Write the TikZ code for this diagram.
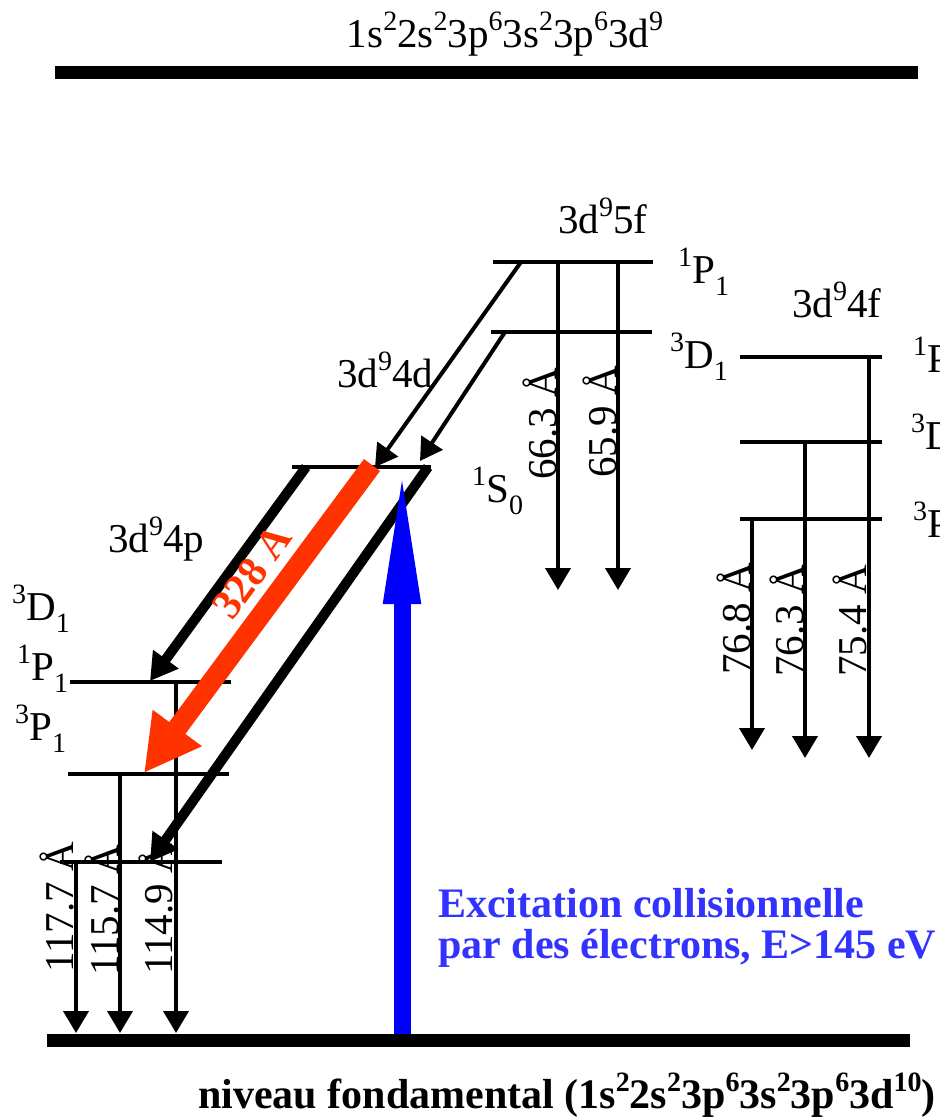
\documentclass[tikz,border=0pt]{standalone}
\usepackage{fontspec}
\setmainfont{Liberation Serif}
\usetikzlibrary{arrows.meta}
\definecolor{laserred}{RGB}{255, 51, 0}
\definecolor{pumpblue}{RGB}{0, 0, 255}
\definecolor{textblue}{RGB}{51, 51, 255}
\newcommand{\hi}[1]{\raisebox{0.4em}{\fontsize{28}{28}\selectfont #1}}
\newcommand{\lo}[1]{\raisebox{-0.3em}{\fontsize{28}{28}\selectfont #1}}

\begin{document}
\begin{tikzpicture}[
    x=1pt, y=-1pt,
    font=\fontsize{41}{46}\selectfont,
    level/.style={line width=4pt},
    ground/.style={line width=13pt},
    decay/.style={line width=4pt, -{Triangle[length=22pt, width=25pt]}},
    cascade/.style={line width=10pt, -{Triangle[length=27pt, width=30pt]}},
    laser/.style={laserred, line width=20pt, -{Triangle[length=56pt, width=57pt]}},
    pump/.style={pumpblue, line width=17pt, -{Triangle[length=142pt, width=33pt]}},
    lbl/.style={anchor=base west, inner sep=0pt},
    wave/.style={rotate=90, anchor=base west, inner sep=0pt}
]
    \useasboundingbox (0,0) rectangle (940,1117);
    \clip (0,0) rectangle (940,1117);

    % ==========================================
    % COORDINATES
    % ==========================================
    % Ion ground state and Ni-like fundamental level
    \coordinate (ion_l) at (55, 72);
    \coordinate (ion_r) at (918, 72);
    \coordinate (fund_l) at (47, 1040);
    \coordinate (fund_r) at (910, 1040);

    % 3d9 5f levels
    \coordinate (f5P_l) at (493, 262);
    \coordinate (f5P_r) at (653, 262);
    \coordinate (f5D_l) at (491, 332);
    \coordinate (f5D_r) at (652, 332);

    % 3d9 4f levels
    \coordinate (f4P_l) at (740, 357);
    \coordinate (f4P_r) at (882, 357);
    \coordinate (f4D_l) at (740, 442);
    \coordinate (f4D_r) at (882, 442);
    \coordinate (f4T_l) at (740, 519);
    \coordinate (f4T_r) at (882, 519);

    % 3d9 4d level
    \coordinate (d4S_l) at (292, 467);
    \coordinate (d4S_r) at (431, 467);

    % 3d9 4p levels
    \coordinate (p4P_l) at (70, 682);
    \coordinate (p4P_r) at (231, 682);
    \coordinate (p4T_l) at (68, 774);
    \coordinate (p4T_r) at (229, 774);
    \coordinate (p4D_l) at (60, 862);
    \coordinate (p4D_r) at (222, 862);

    % ==========================================
    % LEVELS
    % ==========================================
    \draw[ground] (ion_l) -- (ion_r);
    \draw[ground] (fund_l) -- (fund_r);

    \draw[level] (f5P_l) -- (f5P_r);
    \draw[level] (f5D_l) -- (f5D_r);

    \draw[level] (f4P_l) -- (f4P_r);
    \draw[level] (f4D_l) -- (f4D_r);
    \draw[level] (f4T_l) -- (f4T_r);

    \draw[level] (d4S_l) -- (d4S_r);

    \draw[level] (p4P_l) -- (p4P_r);
    \draw[level] (p4T_l) -- (p4T_r);
    \draw[level] (p4D_l) -- (p4D_r);

    % ==========================================
    % LABELS
    % ==========================================
    \node[anchor=base, inner sep=0pt] (ion) at (505, 47)
        {1s\hi{2}2s\hi{2}3p\hi{6}3s\hi{2}3p\hi{6}3d\hi{9}};

    \node[lbl] (conf5f) at (558, 233) {3d\hi{9}5f};
    \node[lbl] (t5fP) at (678, 283) {\hi{1}P\lo{1}};
    \node[lbl] (t5fD) at (670, 368) {\hi{3}D\lo{1}};

    \node[lbl] (conf4f) at (792, 317) {3d\hi{9}4f};
    \node[lbl] (t4fP) at (913, 372) {\hi{1}P\lo{1}};
    \node[lbl] (t4fD) at (911, 449) {\hi{3}D\lo{1}};
    \node[lbl] (t4fT) at (913, 537) {\hi{3}P\lo{1}};

    \node[lbl] (conf4d) at (337, 387) {3d\hi{9}4d};
    \node[lbl] (t4dS) at (472, 502) {\hi{1}S\lo{0}};

    \node[lbl] (conf4p) at (108, 552) {3d\hi{9}4p};
    \node[lbl] (t4pD) at (12, 620) {\hi{3}D\lo{1}};
    \node[lbl] (t4pP) at (17, 680) {\hi{1}P\lo{1}};
    \node[lbl] (t4pT) at (15, 740) {\hi{3}P\lo{1}};

    % ==========================================
    % RADIATIVE DECAYS (thin black)
    % ==========================================
    % 5f -> 4d
    \coordinate (a1_s) at (521, 262);
    \coordinate (a1_e) at (375, 467);
    \coordinate (a2_s) at (505, 332);
    \coordinate (a2_e) at (420, 461);
    \draw[decay] (a1_s) -- (a1_e);
    \draw[decay] (a2_s) -- (a2_e);

    % 5f -> ground
    \coordinate (v1_s) at (558, 262);
    \coordinate (v1_e) at (558, 590);
    \coordinate (v2_s) at (618, 262);
    \coordinate (v2_e) at (618, 590);
    \draw[decay] (v1_s) -- (v1_e);
    \draw[decay] (v2_s) -- (v2_e);
    \node[wave] (w663) at (556, 480) {66.3 Å};
    \node[wave] (w659) at (616, 478) {65.9 Å};

    % 4f -> ground
    \coordinate (v3_s) at (869, 357);
    \coordinate (v3_e) at (869, 758);
    \coordinate (v4_s) at (805, 442);
    \coordinate (v4_e) at (805, 758);
    \coordinate (v5_s) at (752, 519);
    \coordinate (v5_e) at (752, 750);
    \draw[decay] (v3_s) -- (v3_e);
    \draw[decay] (v4_s) -- (v4_e);
    \draw[decay] (v5_s) -- (v5_e);
    \node[wave] (w768) at (750, 675) {76.8 Å};
    \node[wave] (w763) at (803, 677) {76.3 Å};
    \node[wave] (w754) at (866, 677) {75.4 Å};

    % 4p -> ground
    \coordinate (v6_s) at (176, 682);
    \coordinate (v6_e) at (176, 1033);
    \coordinate (v7_s) at (120, 774);
    \coordinate (v7_e) at (120, 1033);
    \coordinate (v8_s) at (76, 862);
    \coordinate (v8_e) at (76, 1033);
    \draw[decay] (v6_s) -- (v6_e);
    \draw[decay] (v7_s) -- (v7_e);
    \draw[decay] (v8_s) -- (v8_e);
    \node[wave] (w1177) at (73, 973) {117.7 Å};
    \node[wave] (w1157) at (118, 976) {115.7 Å};
    \node[wave] (w1149) at (172, 975) {114.9 Å};

    % ==========================================
    % 4d -> 4p (thick black, red laser line)
    % ==========================================
    \coordinate (c1_s) at (306, 467);
    \coordinate (c1_e) at (150, 681);
    \coordinate (c2_s) at (428, 467);
    \coordinate (c2_e) at (150, 862);
    \coordinate (las_s) at (372, 465);
    \coordinate (las_e) at (144, 773);
    \draw[cascade] (c1_s) -- (c1_e);
    \draw[cascade] (c2_s) -- (c2_e);
    \draw[laser] (las_s) -- (las_e);
    \node[laserred, font=\fontsize{42}{46}\selectfont\bfseries, rotate=53.6, inner sep=0pt]
        (lasline) at (252, 572) {328 A};

    % ==========================================
    % COLLISIONAL EXCITATION (blue)
    % ==========================================
    \coordinate (pump_s) at (402, 1034);
    \coordinate (pump_e) at (402, 462);
    \draw[pump] (pump_s) -- (pump_e);
    \node[lbl, textblue, font=\fontsize{42}{42}\selectfont\bfseries] (exc1) at (438, 917)
        {Excitation collisionnelle};
    \node[lbl, textblue, font=\fontsize{42}{42}\selectfont\bfseries] (exc2) at (438, 958)
        {par des électrons, E>145 eV};

    % ==========================================
    % FUNDAMENTAL LEVEL
    % ==========================================
    \node[lbl, font=\fontsize{42}{42}\selectfont\bfseries] (fund) at (198, 1108)
        {niveau fondamental (1s\hi{2}2s\hi{2}3p\hi{6}3s\hi{2}3p\hi{6}3d\hi{10})};

\end{tikzpicture}
\end{document}
